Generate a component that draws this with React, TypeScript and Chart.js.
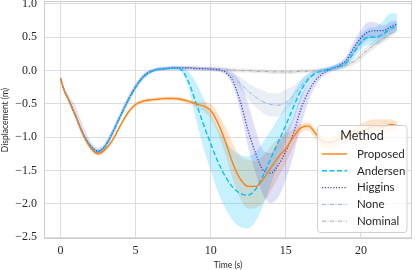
import React, { useEffect, useRef } from 'react';
import { Chart, registerables } from 'chart.js';
Chart.register(...registerables);

// ---- data ----
const time = [0,0.25,0.5,1,1.5,2,2.5,3,3.5,4,4.5,5,5.5,6,6.5,7,7.5,8,8.5,9,9.5,10,10.5,11,11.5,12,12.5,13,13.5,14,14.5,15,15.5,16,16.5,17,17.5,18,18.5,19,19.5,20,20.5,21,21.5,22,22.4];

const proposed = [-0.12,-0.30,-0.42,-0.68,-0.96,-1.16,-1.25,-1.18,-1.03,-0.82,-0.63,-0.51,-0.46,-0.44,-0.43,-0.42,-0.42,-0.43,-0.46,-0.50,-0.53,-0.60,-0.80,-1.08,-1.41,-1.64,-1.74,-1.74,-1.63,-1.46,-1.30,-1.17,-1.00,-0.86,-0.83,-0.95,-1.07,-1.08,-1.03,-0.99,-0.96,-0.92,-0.87,-0.83,-0.85,-0.81,-0.83];
const proposedUp = [0.01,0.02,0.02,0.03,0.03,0.03,0.03,0.03,0.03,0.03,0.03,0.03,0.03,0.03,0.03,0.03,0.03,0.03,0.03,0.04,0.06,0.10,0.15,0.22,0.30,0.35,0.40,0.38,0.35,0.32,0.28,0.22,0.12,0.06,0.05,0.07,0.08,0.08,0.08,0.08,0.10,0.12,0.12,0.10,0.12,0.08,0.06];
const proposedDown = [0.01,0.02,0.02,0.03,0.03,0.03,0.03,0.03,0.03,0.03,0.03,0.03,0.03,0.03,0.03,0.03,0.03,0.03,0.04,0.05,0.08,0.12,0.15,0.20,0.25,0.30,0.33,0.32,0.35,0.35,0.30,0.22,0.15,0.08,0.07,0.08,0.10,0.10,0.10,0.10,0.10,0.10,0.10,0.08,0.10,0.10,0.06];

const andersen = [-0.12,-0.30,-0.42,-0.68,-0.95,-1.14,-1.22,-1.13,-0.92,-0.68,-0.45,-0.25,-0.10,-0.02,0.02,0.03,0.04,0.02,-0.16,-0.47,-0.80,-1.10,-1.38,-1.60,-1.76,-1.85,-1.87,-1.78,-1.57,-1.32,-1.07,-0.82,-0.55,-0.30,-0.13,-0.04,0.00,0.03,0.06,0.11,0.26,0.42,0.50,0.50,0.55,0.64,0.66];
const andersenUp = [0.01,0.02,0.02,0.03,0.03,0.03,0.03,0.03,0.03,0.03,0.03,0.03,0.03,0.02,0.02,0.02,0.02,0.03,0.15,0.30,0.40,0.45,0.50,0.53,0.56,0.58,0.58,0.56,0.50,0.42,0.35,0.30,0.22,0.15,0.08,0.05,0.04,0.04,0.05,0.06,0.10,0.12,0.14,0.16,0.20,0.22,0.20];
const andersenDown = [0.01,0.02,0.02,0.03,0.03,0.03,0.03,0.03,0.03,0.03,0.03,0.03,0.03,0.02,0.02,0.02,0.02,0.03,0.08,0.25,0.35,0.40,0.45,0.48,0.50,0.50,0.50,0.48,0.45,0.40,0.32,0.25,0.20,0.15,0.08,0.05,0.04,0.04,0.05,0.06,0.08,0.10,0.12,0.12,0.10,0.10,0.08];

const higgins = [-0.12,-0.30,-0.42,-0.68,-0.95,-1.13,-1.21,-1.12,-0.91,-0.67,-0.44,-0.24,-0.09,-0.01,0.02,0.03,0.04,0.04,0.04,0.03,0.03,0.02,0.01,-0.03,-0.17,-0.49,-0.91,-1.25,-1.50,-1.54,-1.42,-1.21,-0.95,-0.58,-0.32,-0.14,-0.04,0.02,0.07,0.15,0.33,0.49,0.58,0.60,0.60,0.66,0.70];
const higginsUp = [0.02,0.04,0.06,0.14,0.12,0.07,0.05,0.05,0.06,0.06,0.06,0.05,0.04,0.03,0.03,0.03,0.03,0.03,0.03,0.03,0.03,0.03,0.03,0.05,0.15,0.30,0.40,0.35,0.30,0.30,0.35,0.30,0.25,0.20,0.12,0.06,0.04,0.03,0.04,0.06,0.10,0.12,0.15,0.12,0.08,0.08,0.05];
const higginsDown = [0.02,0.03,0.04,0.05,0.05,0.05,0.05,0.05,0.06,0.06,0.06,0.05,0.04,0.03,0.03,0.03,0.03,0.03,0.03,0.03,0.03,0.03,0.03,0.03,0.08,0.15,0.25,0.30,0.38,0.45,0.48,0.43,0.33,0.25,0.15,0.08,0.05,0.04,0.05,0.06,0.08,0.10,0.10,0.10,0.08,0.08,0.06];

const none = [-0.12,-0.30,-0.42,-0.68,-0.95,-1.14,-1.22,-1.13,-0.92,-0.68,-0.45,-0.25,-0.10,-0.02,0.02,0.03,0.04,0.04,0.04,0.03,0.03,0.03,0.02,-0.01,-0.10,-0.20,-0.31,-0.40,-0.47,-0.51,-0.52,-0.48,-0.38,-0.23,-0.10,-0.03,0.01,0.04,0.07,0.13,0.28,0.43,0.52,0.52,0.56,0.63,0.66];
const noneUp = [0.01,0.02,0.02,0.03,0.03,0.03,0.03,0.03,0.03,0.03,0.03,0.03,0.03,0.02,0.02,0.02,0.02,0.02,0.02,0.02,0.02,0.02,0.02,0.02,0.05,0.10,0.12,0.15,0.17,0.17,0.18,0.20,0.15,0.10,0.06,0.03,0.03,0.03,0.04,0.05,0.07,0.08,0.08,0.08,0.08,0.08,0.06];
const noneDown = [0.01,0.02,0.02,0.03,0.03,0.03,0.03,0.03,0.03,0.03,0.03,0.03,0.03,0.02,0.02,0.02,0.02,0.02,0.02,0.02,0.02,0.02,0.02,0.02,0.05,0.08,0.12,0.15,0.17,0.18,0.17,0.12,0.10,0.10,0.06,0.03,0.03,0.03,0.04,0.05,0.07,0.08,0.08,0.08,0.08,0.08,0.06];

const nominal = [-0.12,-0.30,-0.42,-0.68,-0.95,-1.14,-1.22,-1.13,-0.92,-0.68,-0.45,-0.25,-0.10,-0.02,0.02,0.03,0.04,0.04,0.04,0.04,0.03,0.03,0.03,0.02,0.01,0.00,0.00,-0.01,-0.01,-0.02,-0.02,-0.02,-0.02,-0.01,-0.01,0.00,0.01,0.03,0.05,0.08,0.13,0.22,0.32,0.41,0.48,0.56,0.62];
const nominalSpread = [0.01,0.02,0.02,0.03,0.03,0.03,0.03,0.03,0.03,0.03,0.03,0.03,0.03,0.02,0.02,0.02,0.02,0.02,0.02,0.02,0.02,0.03,0.03,0.03,0.03,0.03,0.03,0.03,0.03,0.03,0.03,0.03,0.03,0.03,0.03,0.03,0.03,0.03,0.03,0.04,0.05,0.06,0.06,0.06,0.06,0.06,0.05];

const methodLabels = ['Proposed', 'Andersen', 'Higgins', 'None', 'Nominal'];
const xTicks = [0, 5, 10, 15, 20];
const yTicks = [-2.5, -2.0, -1.5, -1.0, -0.5, 0.0, 0.5, 1.0];

// ---- styles ----
const styles = [
  { color: '#ff7f0e', band: 'rgba(255,127,14,0.22)', dash: [] as number[], width: 1.4 },
  { color: '#00bfff', band: 'rgba(0,191,255,0.22)', dash: [5, 2.5], width: 1.4 },
  { color: '#4141cd', band: 'rgba(65,65,205,0.17)', dash: [1.2, 1.6], width: 1.3 },
  { color: '#8db6e6', band: 'rgba(140,165,205,0.18)', dash: [4, 1.5, 1, 1.5], width: 1 },
  { color: '#a6a6a6', band: 'rgba(150,150,150,0.18)', dash: [4, 1.5, 1, 1.5], width: 1 },
];

const seriesData = [
  { mean: proposed, up: proposedUp, down: proposedDown },
  { mean: andersen, up: andersenUp, down: andersenDown },
  { mean: higgins, up: higginsUp, down: higginsDown },
  { mean: none, up: noneUp, down: noneDown },
  { mean: nominal, up: nominalSpread, down: nominalSpread },
];

const TEXT = '#262626';
const SERIF = "'Liberation Serif', 'DejaVu Serif', serif";
const SANS = "Lato, 'Open Sans', sans-serif";

const overlayPlugin = {
  id: 'overlay',
  afterDatasetsDraw(chart: any) {
    const { ctx, chartArea } = chart;
    ctx.save();
    // frame
    ctx.strokeStyle = '#cccccc';
    ctx.lineWidth = 1;
    ctx.strokeRect(chartArea.left + 0.5, chartArea.top + 0.5, chartArea.right - chartArea.left - 1, chartArea.bottom - chartArea.top - 1);

    // legend
    const bx = 317.5, by = 125.5, bw = 89.5, bh = 107, r = 3;
    ctx.beginPath();
    ctx.moveTo(bx + r, by);
    ctx.lineTo(bx + bw - r, by);
    ctx.arcTo(bx + bw, by, bx + bw, by + r, r);
    ctx.lineTo(bx + bw, by + bh - r);
    ctx.arcTo(bx + bw, by + bh, bx + bw - r, by + bh, r);
    ctx.lineTo(bx + r, by + bh);
    ctx.arcTo(bx, by + bh, bx, by + bh - r, r);
    ctx.lineTo(bx, by + r);
    ctx.arcTo(bx, by, bx + r, by, r);
    ctx.closePath();
    ctx.fillStyle = 'rgba(255,255,255,0.8)';
    ctx.fill();
    ctx.strokeStyle = '#d0d0d0';
    ctx.lineWidth = 1;
    ctx.stroke();

    ctx.fillStyle = TEXT;
    ctx.textBaseline = 'middle';
    ctx.textAlign = 'center';
    ctx.font = `12.5px ${SANS}`;
    ctx.fillText('Method', 362, 136);

    ctx.textAlign = 'left';
    ctx.font = `11.5px ${SANS}`;
    methodLabels.forEach((label, i) => {
      const y = 154 + i * 16.8;
      const s = styles[i];
      ctx.beginPath();
      ctx.setLineDash(s.dash);
      ctx.strokeStyle = s.color;
      ctx.lineWidth = s.width;
      ctx.moveTo(322, y);
      ctx.lineTo(347, y);
      ctx.stroke();
      ctx.setLineDash([]);
      ctx.fillStyle = TEXT;
      ctx.fillText(label, 357, y);
    });
    ctx.restore();
  },
};

export default function App() {
  const canvasRef = useRef<HTMLCanvasElement | null>(null);

  useEffect(() => {
    document.body.style.margin = '0';
    const canvas = canvasRef.current;
    if (!canvas) return;

    const datasets: any[] = [];
    seriesData.forEach((s, k) => {
      datasets.push({
        label: methodLabels[k] + ' lower',
        data: time.map((t, i) => ({ x: t, y: s.mean[i] - s.down[i] })),
        borderColor: 'rgba(0,0,0,0)',
        borderWidth: 0,
        pointRadius: 0,
        fill: false,
        cubicInterpolationMode: 'monotone',
        order: 20 - k,
      });
      datasets.push({
        label: methodLabels[k] + ' upper',
        data: time.map((t, i) => ({ x: t, y: s.mean[i] + s.up[i] })),
        borderColor: 'rgba(0,0,0,0)',
        borderWidth: 0,
        pointRadius: 0,
        fill: 2 * k,
        backgroundColor: styles[k].band,
        cubicInterpolationMode: 'monotone',
        order: 20 - k,
      });
    });
    seriesData.forEach((s, k) => {
      datasets.push({
        label: methodLabels[k],
        data: time.map((t, i) => ({ x: t, y: s.mean[i] })),
        borderColor: styles[k].color,
        borderWidth: styles[k].width,
        borderDash: styles[k].dash,
        pointRadius: 0,
        fill: false,
        cubicInterpolationMode: 'monotone',
        order: 0,
      });
    });

    const chart = new Chart(canvas, {
      type: 'line',
      data: { datasets },
      options: {
        animation: false,
        responsive: false,
        maintainAspectRatio: false,
        layout: { autoPadding: false, padding: { top: 1, right: 3, left: 0, bottom: 0 } },
        plugins: { legend: { display: false }, tooltip: { enabled: false } },
        scales: {
          x: {
            type: 'linear',
            min: -1.1,
            max: 23.4,
            afterBuildTicks: (scale: any) => { scale.ticks = xTicks.map((v) => ({ value: v })); },
            afterFit: (scale: any) => {
              scale.height = 31;
              scale.paddingLeft = 0;
              scale.paddingRight = 0;
              scale.paddingTop = 0;
              scale.paddingBottom = 0;
            },
            grid: { color: '#dcdcdc', lineWidth: 1, drawTicks: false },
            border: { display: false },
            ticks: {
              padding: 5,
              color: TEXT,
              font: { family: SERIF, size: 12 },
              callback: (v: any) => String(v),
            },
            title: {
              display: true,
              text: 'Time (s)',
              color: TEXT,
              font: { family: SANS, size: 8.5 },
              padding: { top: 0, bottom: 0 },
            },
          },
          y: {
            type: 'linear',
            min: -2.53,
            max: 1.045,
            afterBuildTicks: (scale: any) => { scale.ticks = yTicks.map((v) => ({ value: v })); },
            afterFit: (scale: any) => {
              scale.width = 44;
              scale.paddingLeft = 0;
              scale.paddingRight = 0;
              scale.paddingTop = 0;
              scale.paddingBottom = 0;
            },
            grid: { color: '#dcdcdc', lineWidth: 1, drawTicks: false },
            border: { display: false },
            ticks: {
              padding: 7,
              color: TEXT,
              font: { family: SERIF, size: 12 },
              callback: (v: any) => Number(v).toFixed(1).replace('-', '\u2212'),
            },
            title: {
              display: true,
              text: 'Displacement (m)',
              color: TEXT,
              font: { family: SANS, size: 8.5 },
              padding: { top: 0, bottom: 0 },
            },
          },
        },
      },
      plugins: [overlayPlugin],
    });

    return () => chart.destroy();
  }, []);

  return (
    <div style={{ width: 415, height: 270 }}>
      <canvas ref={canvasRef} width={415} height={270} style={{ display: 'block' }} />
    </div>
  );
}
